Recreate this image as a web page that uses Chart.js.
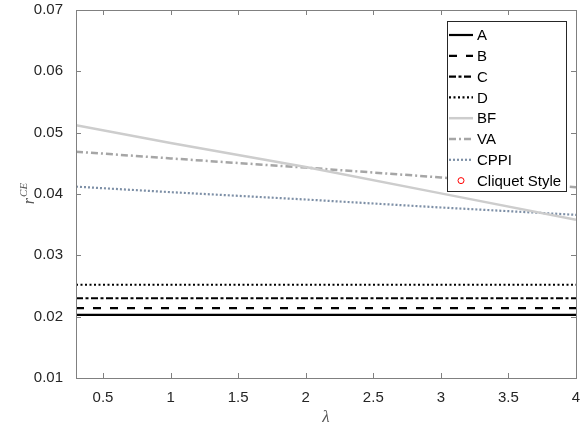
<!DOCTYPE html>
<html>
<head>
<meta charset="utf-8">
<script src="https://cdn.jsdelivr.net/npm/chart.js@4.4.0/dist/chart.umd.min.js"></script>
<style>
  html, body { margin: 0; padding: 0; background: #fff; }
  #wrap { width: 587px; height: 426px; }
</style>
</head>
<body>
<div id="wrap"><canvas id="chart" width="587" height="426"></canvas></div>
<script>
// data
const lambdas = [0.3, 1, 2, 3, 4];
const seriesA = [0.0203, 0.0203, 0.0203, 0.0203, 0.0203];
const seriesB = [0.0214, 0.0214, 0.0214, 0.0214, 0.0214];
const seriesC = [0.0230, 0.0230, 0.0230, 0.0230, 0.0230];
const seriesD = [0.0252, 0.0252, 0.0252, 0.0252, 0.0252];
const seriesBF = [0.0512, 0.0483, 0.0444, 0.0401, 0.0358];
const seriesVA = [0.0469, 0.0458, 0.0443, 0.0427, 0.0411];
const seriesCPPI = [0.0412, 0.0403, 0.0391, 0.0378, 0.0366];
const seriesCliquet = [];
const xTicks = [0.5, 1, 1.5, 2, 2.5, 3, 3.5, 4];
const xTickLabels = ['0.5', '1', '1.5', '2', '2.5', '3', '3.5', '4'];
const yTicks = [0.01, 0.02, 0.03, 0.04, 0.05, 0.06, 0.07];
const yTickLabels = ['0.01', '0.02', '0.03', '0.04', '0.05', '0.06', '0.07'];

const FONT = "'Liberation Sans', Arial, sans-serif";

const toPts = (ys) => ys.map((y, i) => ({ x: lambdas[i], y: y }));

const line = (label, ys, color, width, dash) => ({
  label: label,
  data: toPts(ys),
  borderColor: color,
  borderWidth: width,
  borderDash: dash,
  pointRadius: 0,
  fill: false,
  tension: 0
});

const datasets = [
  line('A', seriesA, '#000000', 2.2, []),
  line('B', seriesB, '#000000', 2.2, [8, 9]),
  line('C', seriesC, '#000000', 2.2, [7, 2.5, 3, 2.5]),
  line('D', seriesD, '#000000', 2.2, [2, 2.5]),
  line('BF', seriesBF, '#cdcdcd', 2.5, []),
  line('VA', seriesVA, '#a6a6a6', 2.5, [7, 3, 2, 3]),
  line('CPPI', seriesCPPI, '#7d8fa6', 2.2, [2, 2]),
  {
    label: 'Cliquet Style',
    data: toPts(seriesCliquet),
    showLine: false,
    pointStyle: 'circle',
    pointRadius: 3,
    borderColor: '#ff0000',
    backgroundColor: 'rgba(0,0,0,0)',
    borderWidth: 1
  }
];

// box, inward ticks, axis label and legend, matlab style
const matlabFrame = {
  id: 'matlabFrame',
  afterDatasetsDraw(chart) {
    const ctx = chart.ctx;
    const a = chart.chartArea;
    const xs = chart.scales.x, ys = chart.scales.y;
    ctx.save();
    ctx.strokeStyle = '#808080';
    ctx.lineWidth = 1;
    ctx.setLineDash([]);
    ctx.strokeRect(Math.round(a.left) + 0.5, Math.round(a.top) + 0.5,
      Math.round(a.right - a.left), Math.round(a.bottom - a.top));
    ctx.beginPath();
    xTicks.forEach(v => {
      const px = Math.round(xs.getPixelForValue(v)) + 0.5;
      ctx.moveTo(px, a.bottom); ctx.lineTo(px, a.bottom - 5);
      ctx.moveTo(px, a.top); ctx.lineTo(px, a.top + 5);
    });
    yTicks.forEach(v => {
      const py = Math.round(ys.getPixelForValue(v)) + 0.5;
      ctx.moveTo(a.left, py); ctx.lineTo(a.left + 5, py);
      ctx.moveTo(a.right, py); ctx.lineTo(a.right - 5, py);
    });
    ctx.stroke();

    // y axis label r^CE
    ctx.fillStyle = '#555555';
    ctx.translate(29, (a.top + a.bottom) / 2);
    ctx.rotate(-Math.PI / 2);
    ctx.textBaseline = 'alphabetic';
    ctx.font = "italic 16px 'Liberation Serif', serif";
    const rw = ctx.measureText('r').width;
    ctx.font = "italic 11px 'Liberation Serif', serif";
    const cw = ctx.measureText('CE').width;
    const x0 = -(rw + cw) / 2;
    ctx.font = "italic 16px 'Liberation Serif', serif";
    ctx.fillText('r', x0, 5);
    ctx.font = "italic 11px 'Liberation Serif', serif";
    ctx.fillText('CE', x0 + rw + 1, -2);
    ctx.restore();

    // legend
    ctx.save();
    const lx = 447, ly = 21, lw = 119, lh = 170;
    ctx.fillStyle = '#ffffff';
    ctx.fillRect(lx, ly, lw, lh);
    ctx.strokeStyle = '#262626';
    ctx.lineWidth = 1;
    ctx.strokeRect(lx + 0.5, ly + 0.5, lw, lh);
    ctx.font = '15px ' + FONT;
    ctx.textBaseline = 'middle';
    chart.data.datasets.forEach((ds, i) => {
      const cy = 35 + i * 20.8;
      if (ds.showLine === false) {
        ctx.setLineDash([]);
        ctx.strokeStyle = ds.borderColor;
        ctx.lineWidth = 1;
        ctx.beginPath();
        ctx.arc(461, cy, 3, 0, Math.PI * 2);
        ctx.stroke();
      } else {
        ctx.strokeStyle = ds.borderColor;
        ctx.lineWidth = ds.borderWidth;
        ctx.setLineDash(ds.borderDash);
        ctx.beginPath();
        ctx.moveTo(449, cy);
        ctx.lineTo(473, cy);
        ctx.stroke();
      }
      ctx.fillStyle = '#000000';
      ctx.fillText(ds.label, 477, cy + 1);
    });
    ctx.restore();
  }
};

new Chart(document.getElementById('chart'), {
  type: 'line',
  data: { datasets: datasets },
  options: {
    responsive: false,
    animation: false,
    layout: { padding: { left: 0, right: 11, top: 10, bottom: 0 } },
    plugins: {
      legend: { display: false },
      tooltip: { enabled: false }
    },
    scales: {
      x: {
        type: 'linear',
        min: 0.3,
        max: 4,
        afterBuildTicks: (s) => { s.ticks = xTicks.map(v => ({ value: v })); },
        afterFit: (s) => { s.height = 48; },
        grid: { display: false },
        border: { display: false },
        ticks: {
          padding: 3,
          color: '#262626',
          font: { family: FONT, size: 15 },
          maxRotation: 0,
          callback: (v) => xTickLabels[xTicks.indexOf(v)]
        },
        title: {
          display: true,
          text: 'λ',
          color: '#555555',
          padding: { top: 2, bottom: -2 },
          font: { family: "'Liberation Serif', serif", style: 'italic', size: 17 }
        }
      },
      y: {
        min: 0.01,
        max: 0.07,
        afterBuildTicks: (s) => { s.ticks = yTicks.map(v => ({ value: v })); },
        afterFit: (s) => { s.width = 76; s.paddingTop = 0; },
        grid: { display: false },
        border: { display: false },
        ticks: {
          padding: 5,
          color: '#262626',
          font: { family: FONT, size: 15 },
          callback: (v) => yTickLabels[yTicks.indexOf(v)]
        }
      }
    }
  },
  plugins: [matlabFrame]
});
</script>
</body>
</html>
